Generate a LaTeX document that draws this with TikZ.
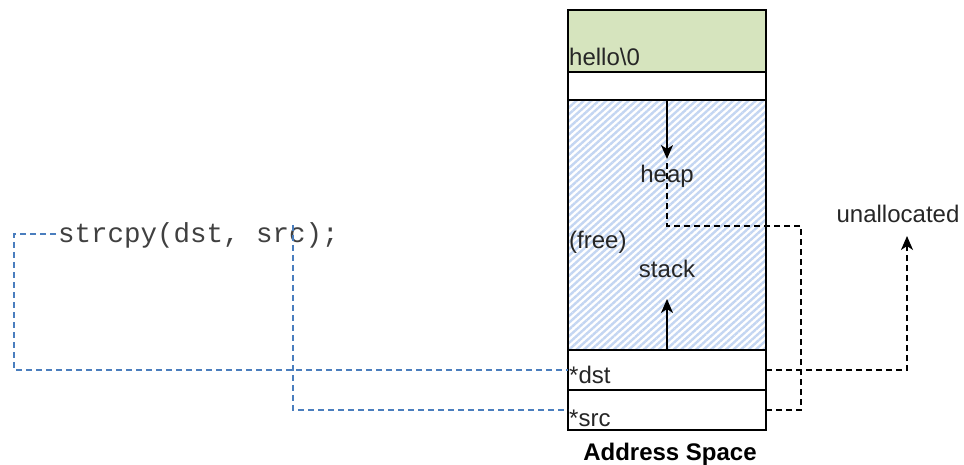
\documentclass[tikz,border=0pt]{standalone}
\usepackage{fontspec}
\setmainfont{Liberation Sans}
\setmonofont{Liberation Mono}
\usetikzlibrary{arrows.meta,patterns.meta}
\definecolor{hellogreen}{RGB}{214,228,190}
\definecolor{hatchblue}{RGB}{196,214,242}
\definecolor{linkblue}{RGB}{74,126,190}
\tikzset{
  cell/.style={draw=black, line width=2pt, minimum width=198pt, inner sep=0pt, outer sep=0pt, anchor=north west},
  lbl/.style={font=\fontsize{24}{28}\selectfont, inner sep=0pt, text=black!85},
  code/.style={font=\ttfamily\fontsize{27.5}{30}\selectfont, inner sep=0pt, text=black!75},
  tip/.style={-{Stealth[length=14pt,width=12pt,inset=4pt]}},
  growth/.style={line width=1.8pt, tip},
  ptr/.style={line width=1.8pt, dash pattern=on 6pt off 4pt},
  bluelink/.style={draw=linkblue, line width=1.4pt, dash pattern=on 6pt off 4pt}
}
\begin{document}
\begin{tikzpicture}[x=1pt,y=-1pt]
\useasboundingbox (0,0) rectangle (964,465);
% address space cells
\node[cell, fill=hellogreen, minimum height=62pt] (hello) at (568,10) {};
\node[cell, fill=white, minimum height=28pt] (gap) at (568,72) {};
\node[cell, minimum height=250pt, fill=white] (free) at (568,100) {};
\fill[pattern={Lines[angle=42,distance=5pt,line width=2.4pt]}, pattern color=hatchblue] ([shift={(1pt,-1pt)}]free.north west) rectangle ([shift={(-1pt,1pt)}]free.south east);
\draw[line width=2pt] (free.north west) rectangle (free.south east);
\node[cell, fill=white, minimum height=40pt] (dst) at (568,350) {};
\node[cell, fill=white, minimum height=40pt] (src) at (568,390) {};
% texts
\node[lbl, anchor=base west] (hellotxt) at (569,66) {hello\textbackslash 0};
\node[lbl, anchor=base] (heaptxt) at (667,183) {heap};
\node[lbl, anchor=base west] (freetxt) at (569,249) {(free)};
\node[lbl, anchor=base] (stacktxt) at (667,277) {stack};
\node[lbl, anchor=base west] (dsttxt) at (569,383) {*dst};
\node[lbl, anchor=base west] (srctxt) at (569,426) {*src};
\node[lbl, anchor=base, font=\bfseries\fontsize{24}{28}\selectfont, text=black] (astxt) at (670,460) {Address Space};
\node[lbl, anchor=base] (unalloc) at (898,223) {unallocated};
\node[code, anchor=base west] (strcpy) at (58,243) {strcpy(dst, src);};
% growth arrows
\coordinate (heaptip) at (667,159);
\coordinate (stacktip) at (667,299);
\draw[growth] (free.north -| heaptip) -- (heaptip);
\draw[growth] (free.south -| stacktip) -- (stacktip);
% pointer connectors
\coordinate (heapend) at (667,163);
\coordinate (srcturn) at (801,226);
\draw[ptr] (src.east |- 0,410) -| (srcturn) -| (heapend);
\coordinate (unalloctip) at (907,236);
\draw[ptr, tip] (dst.east |- 0,370) -| (unalloctip);
% blue links from code
\coordinate (dstcode) at (14,234);
\draw[bluelink] (56,234) -- (dstcode) |- (dst.west |- 0,370);
\coordinate (srccode) at (293,225);
\draw[bluelink] (srccode) |- (src.west |- 0,410);
\end{tikzpicture}
\end{document}
